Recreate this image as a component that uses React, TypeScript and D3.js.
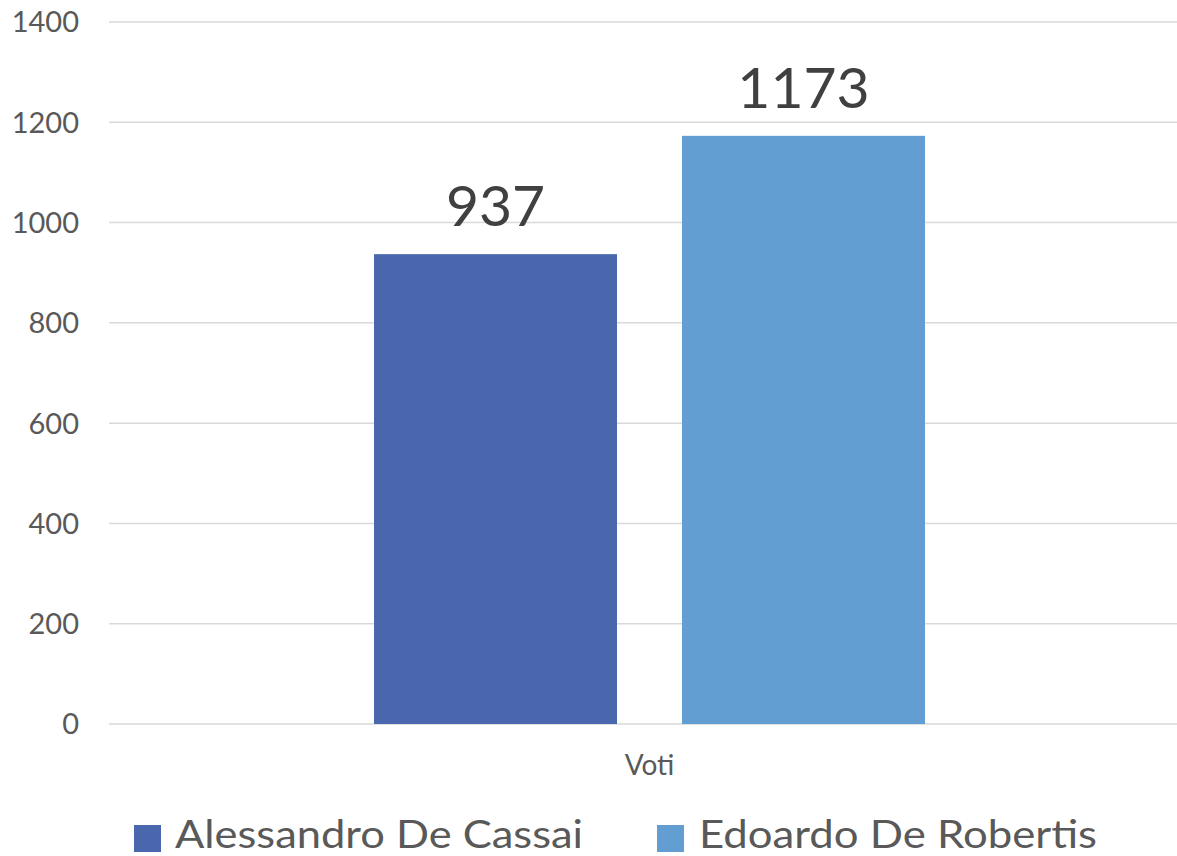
import React from 'react';
import * as d3 from 'd3';

const categories = ['Voti'];
const seriesNames = ['Alessandro De Cassai', 'Edoardo De Robertis'];
const seriesValues = [937, 1173];
const seriesColors = ['#4a67ae', '#629ed1'];
const yTicks = [0, 200, 400, 600, 800, 1000, 1200, 1400];

const W = 1177;
const H = 856;
const FONT = 'Lato, "Open Sans", sans-serif';

const App = () => {
  const y = d3.scaleLinear().domain([0, 1400]).range([724, 22]);
  const x0 = d3.scaleBand().domain(categories).range([109, 1190]).paddingOuter(0.481);
  const x1 = d3.scaleBand().domain(seriesNames).range([0, x0.bandwidth()]).paddingInner(0.211);

  // legend layout
  const legend = [
    { sq: 134, text: 175, len: 408 },
    { sq: 657, text: 699, len: 398 },
  ];

  return (
    <svg width={W} height={H} style={{ position: 'absolute', left: 0, top: 0, background: '#fff' }}>
      {yTicks.map(t => (
        <g key={t}>
          <line x1={109} x2={W} y1={y(t)} y2={y(t)} stroke="#d9d9d9" strokeWidth={1.5} />
          <text x={79} y={y(t)} dy="0.36em" textAnchor="end" fontFamily={FONT} fontSize={29} fill="#595959">
            {t}
          </text>
        </g>
      ))}

      {categories.map(c => (
        <g key={c} transform={`translate(${x0(c)},0)`}>
          {seriesNames.map((s, i) => (
            <g key={s}>
              <rect
                x={x1(s)}
                y={y(seriesValues[i])}
                width={x1.bandwidth()}
                height={y(0) - y(seriesValues[i])}
                fill={seriesColors[i]}
              />
              <text
                x={(x1(s) as number) + x1.bandwidth() / 2}
                y={y(seriesValues[i]) - 28}
                textAnchor="middle"
                fontFamily={FONT}
                fontSize={57}
                fill="#404040"
              >
                {seriesValues[i]}
              </text>
            </g>
          ))}
          <text
            x={x0.bandwidth() / 2}
            y={775}
            textAnchor="middle"
            fontFamily={FONT}
            fontSize={28}
            fill="#595959"
          >
            {c}
          </text>
        </g>
      ))}

      {seriesNames.map((s, i) => (
        <g key={s}>
          <rect x={legend[i].sq} y={825} width={27} height={27} fill={seriesColors[i]} />
          <text
            x={legend[i].text}
            y={848}
            fontFamily={FONT}
            fontSize={38}
            fill="#595959"
            textLength={legend[i].len}
            lengthAdjust="spacingAndGlyphs"
          >
            {s}
          </text>
        </g>
      ))}
    </svg>
  );
};

export default App;
